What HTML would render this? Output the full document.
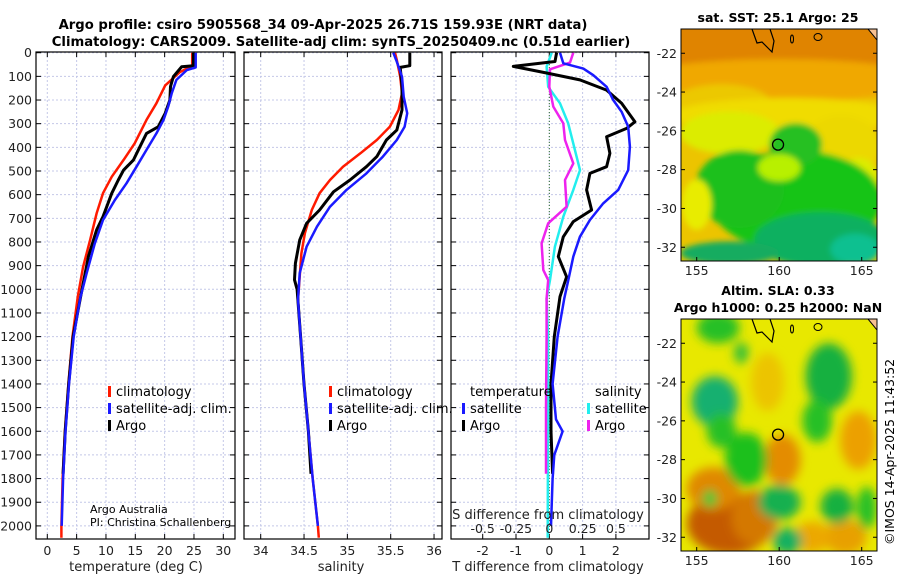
<!DOCTYPE html>
<html><head><meta charset="utf-8"><style>
body{margin:0;background:#fff;}
svg{display:block;font-family:"DejaVu Sans","Liberation Sans",sans-serif;}
</style></head><body>
<svg id="fig" width="900" height="580" viewBox="0 0 900 580" xmlns="http://www.w3.org/2000/svg">
<defs>
<filter id="bl1" x="-50%" y="-50%" width="200%" height="200%"><feGaussianBlur stdDeviation="3"/></filter>
<filter id="bl2" x="-50%" y="-50%" width="200%" height="200%"><feGaussianBlur stdDeviation="5"/></filter>
<clipPath id="cm1"><rect x="681" y="29" width="196" height="232"/></clipPath>
<clipPath id="cm2"><rect x="681" y="319" width="196" height="232"/></clipPath>
</defs>
<text x="323" y="29" text-anchor="middle" font-size="13.2" font-weight="bold">Argo profile: csiro 5905568_34 09-Apr-2025 26.71S 159.93E (NRT data)</text>
<text x="341" y="46" text-anchor="middle" font-size="13.2" font-weight="bold">Climatology: CARS2009. Satellite-adj clim: synTS_20250409.nc (0.51d earlier)</text>
<g id="panels"></g>
<g id="maps"></g>
<text transform="translate(894,545) rotate(-90)" font-size="12.5">©IMOS 14-Apr-2025 11:43:52</text>
</svg>
<script>
// ---------- data ----------
const depthTicks=[0,100,200,300,400,500,600,700,800,900,1000,1100,1200,1300,1400,1500,1600,1700,1800,1900,2000];
const tempTicks=[0,5,10,15,20,25,30];
const salTicks=[34,34.5,35,35.5,36];
const tdiffTicks=[-2,-1,0,1,2];
const sdiffTicks=[-0.5,-0.25,0,0.25,0.5];
const sdiffLabels=["-0.5","-0.25","0","0.25","0.5"];

const tClimDepth=[0,55,82,138,214,284,383,453,524,594,679,792,905,1031,1200,1400,1600,1800,2000,2050];
const tClimVal=[24.7,24.7,22.6,20.1,18.6,16.9,14.9,13.0,11.0,9.5,8.4,7.3,6.1,5.2,4.3,3.6,3.0,2.6,2.4,2.4];
const tSatDepth=[0,62,73,115,172,228,284,341,411,482,552,623,707,806,933,1038,1200,1400,1600,1800,2000];
const tSatVal=[25.3,25.3,23.8,22.0,21.2,20.6,19.8,18.6,16.9,15.2,13.5,11.5,9.5,8.1,6.7,5.6,4.5,3.7,3.1,2.7,2.45];
const tArgoDepth=[0,55,59,101,143,200,256,313,341,397,453,496,538,594,693,749,862,1003,1200,1400,1600,1780];
const tArgoVal=[24.9,24.9,22.9,21.5,21.0,20.9,20.1,18.9,16.9,15.8,14.7,13.0,12.1,11.0,9.5,8.4,7.0,5.9,4.4,3.65,3.05,2.7];

const sClimDepth=[0,31,101,172,242,313,369,425,482,538,594,665,763,848,947,1045,1200,1400,1600,1800,2000,2050];
const sClimVal=[35.55,35.57,35.61,35.63,35.59,35.49,35.34,35.15,34.95,34.80,34.68,34.59,34.51,34.47,34.45,34.43,34.46,34.50,34.55,34.60,34.66,34.67];
const sSatDepth=[0,38,101,186,256,313,369,439,510,580,651,735,820,932,1045,1200,1400,1600,1800,2000];
const sSatVal=[35.53,35.57,35.63,35.65,35.69,35.66,35.57,35.41,35.22,34.99,34.80,34.65,34.53,34.45,34.43,34.46,34.50,34.55,34.60,34.66];
const sArgoDepth=[0,55,62,144,242,327,369,439,482,538,588,665,721,792,890,960,1000,1200,1400,1600,1780];
const sArgoVal=[35.72,35.72,35.61,35.63,35.63,35.57,35.45,35.34,35.22,35.03,34.84,34.68,34.53,34.45,34.40,34.39,34.42,34.46,34.50,34.55,34.58];

const dtSatDepth=[0,45,67,95,144,200,250,313,397,496,580,637,707,778,862,961,1038,1200,1400,1550,1600,1700,1800,2000];
const dtSatVal=[0.32,0.42,1.02,1.32,1.72,1.92,2.17,2.37,2.42,2.37,2.07,1.62,1.22,0.92,0.72,0.57,0.45,0.25,0.1,0.2,0.4,0.15,0.1,0.05];
const dtArgoDepth=[0,37,58,86,115,158,214,292,320,355,425,482,510,580,665,714,778,862,947,1031,1200,1400,1600,1780];
const dtArgoVal=[0.22,0.17,-1.08,-0.08,0.92,1.72,2.17,2.57,2.32,1.72,1.82,1.72,1.22,1.12,1.27,0.72,0.42,0.27,0.52,0.32,0.15,0.05,0.05,0.1];
const dsSatDepth=[0,59,144,214,299,411,496,580,693,820,961,1038,1200,1600,2050];
const dsSatVal=[0.018,-0.02,-0.008,0.08,0.142,0.192,0.23,0.18,0.105,0.042,0.005,-0.02,-0.01,-0.01,-0.012];
const dsArgoDepth=[0,42,70,144,228,299,369,468,538,651,721,806,918,961,1038,1200,1500,1780];
const dsArgoVal=[0.18,0.155,0.005,0,0.03,0.105,0.118,0.18,0.118,0.13,-0.008,-0.058,-0.045,-0.008,-0.02,-0.02,-0.025,-0.025];

// ---------- helpers ----------
const NS="http://www.w3.org/2000/svg";
function mk(tag,attrs,parent){const e=document.createElementNS(NS,tag);for(const k in attrs)e.setAttribute(k,attrs[k]);parent.appendChild(e);return e;}
const Y0=52.7, PX100=23.66, YB=539;
const yD=d=>Y0+d*PX100/100;
const P1={l:36,r:235}, P2={l:244,r:442}, P3={l:451,r:649};
const xT=t=>47.3+t*5.867;
const xS=s=>260.7+(s-34)*86.67;
const xDT=t=>549.3+t*33.3;
const xDS=s=>549.3+s*133.3;
const panels=document.getElementById('panels');

function frame(P,name,xticks,xfun,xlabels){
  const g=mk('g',{},panels);
  
  
  mk('rect',{x:P.l,y:52,width:P.r-P.l,height:YB-52,fill:'#fff'},g);
  depthTicks.forEach(d=>{
    const l=mk('line',{x1:P.l,x2:P.r,y1:yD(d),y2:yD(d),stroke:'#c4c8e8','stroke-dasharray':'2,2','stroke-width':1},g);
    
    
    mk('line',{x1:P.l,x2:P.l+5,y1:yD(d),y2:yD(d),stroke:'#000'},g);
    mk('line',{x1:P.r,x2:P.r-5,y1:yD(d),y2:yD(d),stroke:'#000'},g);
  });
  xticks.forEach((v,i)=>{
    const x=xfun(v);
    const l=mk('line',{x1:x,x2:x,y1:52,y2:YB,stroke:'#c4c8e8','stroke-dasharray':'2,2','stroke-width':1},g);
    
    
    mk('line',{x1:x,x2:x,y1:YB,y2:YB-5,stroke:'#000'},g);
    mk('line',{x1:x,x2:x,y1:52,y2:57,stroke:'#000'},g);
    const t=mk('text',{x:x,y:555,'text-anchor':'middle','font-size':12.5,fill:'#222'},g);
    t.textContent=xlabels?xlabels[i]:String(v);
    
    
  });
  return g;
}
function line(g,depths,vals,xf,color,w,name){
  let d='';
  depths.forEach((dp,i)=>{d+=(i?'L':'M')+xf(vals[i]).toFixed(1)+','+yD(dp).toFixed(1);});
  const p=mk('path',{d:d,fill:'none',stroke:color,'stroke-width':w,'stroke-linejoin':'round'},g);
  
  
  return p;
}
function border(g,P){mk('rect',{x:P.l,y:52,width:P.r-P.l,height:YB-52,fill:'none',stroke:'#000','stroke-width':1.2},g);}
function legendItem(g,x,y,color,label,name){
  mk('rect',{x:x,y:y-10,width:3,height:11,fill:color},g);
  const t=mk('text',{x:x+8,y:y,'font-size':13},g);
  t.textContent=label;
  
  
}

depthTicks.forEach(d=>{
  const t=mk('text',{x:32,y:yD(d)+4.5,'text-anchor':'end','font-size':12.5,fill:'#222'},panels);
  t.textContent=String(d);
  
  
});

const g1=frame(P1,'temperature-panel',tempTicks,xT);
line(g1,tClimDepth,tClimVal,xT,'#ff1a00',2.5,'temp-climatology-line');
line(g1,tArgoDepth,tArgoVal,xT,'#000',3,'temp-argo-line');
line(g1,tSatDepth,tSatVal,xT,'#1a1aff',2.5,'temp-satellite-line');
border(g1,P1);
legendItem(g1,108,396,'#ff1a00','climatology','legend-climatology');
legendItem(g1,108,413,'#1a1aff','satellite-adj. clim.','legend-satellite');
legendItem(g1,108,430,'#000','Argo','legend-argo');
let tx=mk('text',{x:90,y:513,'font-size':11},g1);tx.textContent='Argo Australia';
tx=mk('text',{x:90,y:526,'font-size':11},g1);tx.textContent='PI: Christina Schallenberg';
tx=mk('text',{x:136,y:571,'text-anchor':'middle','font-size':13,fill:'#222'},g1);tx.textContent='temperature (deg C)';


const g2=frame(P2,'salinity-panel',salTicks,xS);
line(g2,sClimDepth,sClimVal,xS,'#ff1a00',2.5,'sal-climatology-line');
line(g2,sArgoDepth,sArgoVal,xS,'#000',3,'sal-argo-line');
line(g2,sSatDepth,sSatVal,xS,'#1a1aff',2.5,'sal-satellite-line');
border(g2,P2);
legendItem(g2,329,396,'#ff1a00','climatology','legend-climatology');
legendItem(g2,329,413,'#1a1aff','satellite-adj. clim.','legend-satellite');
legendItem(g2,329,430,'#000','Argo','legend-argo');
tx=mk('text',{x:341,y:571,'text-anchor':'middle','font-size':13,fill:'#222'},g2);tx.textContent='salinity';

const g3=frame(P3,'difference-panel',tdiffTicks,xDT);
mk('line',{x1:xDT(0),x2:xDT(0),y1:52,y2:YB,stroke:'#2a6a2a','stroke-dasharray':'1,2'},g3);
line(g3,dsSatDepth,dsSatVal,xDS,'#22eeee',2.5,'sdiff-satellite-line');
line(g3,dsArgoDepth,dsArgoVal,xDS,'#ee22ee',2.5,'sdiff-argo-line');
line(g3,dtArgoDepth,dtArgoVal,xDT,'#000',3,'tdiff-argo-line');
line(g3,dtSatDepth,dtSatVal,xDT,'#1a1aff',2.5,'tdiff-satellite-line');
border(g3,P3);
tx=mk('text',{x:470,y:396,'font-size':13},g3);tx.textContent='temperature';
legendItem(g3,462,413,'#1a1aff','satellite','legend-tdiff-satellite');
legendItem(g3,462,430,'#000','Argo','legend-tdiff-argo');
tx=mk('text',{x:595,y:396,'font-size':13},g3);tx.textContent='salinity';
legendItem(g3,587,413,'#22eeee','satellite','legend-sdiff-satellite');
legendItem(g3,587,430,'#ee22ee','Argo','legend-sdiff-argo');
tx=mk('text',{x:548,y:519,'text-anchor':'middle','font-size':13,fill:'#222'},g3);tx.textContent='S difference from climatology';
sdiffTicks.forEach((v,i)=>{
  const t=mk('text',{x:xDS(v),y:533,'text-anchor':'middle','font-size':12.5,fill:'#222'},g3);
  t.textContent=sdiffLabels[i];
  
  
});
tx=mk('text',{x:548,y:571,'text-anchor':'middle','font-size':13,fill:'#222'},g3);tx.textContent='T difference from climatology';

// ---------- maps ----------
const mapLonTicks=[155,160,165];
const mapLatTicks=[-22,-24,-26,-28,-30,-32];
const argoLon=159.93, argoLat=-26.71;
const mLon=lon=>680.7+(lon-154.03)*16.5;
const mLat=(lat,top)=>top+( -20.75-lat)*19.4;
const maps=document.getElementById('maps');
const sstBlobs=[[160,-21.3,9,2.2,'#e08400'],[160,-23.4,9,1.1,'#f0a800'],[156.5,-24.6,3,1.0,'#ecc800'],[160.5,-25.2,7,0.9,'#f0dc00'],[163.8,-26.8,2.3,1.6,'#ecd800'],[157,-26.1,3,1.1,'#dcec00'],[164.8,-28.6,1.3,1.2,'#dcec00'],
 [161,-29.6,5.2,2.6,'#18c418'],[157.6,-29,2.7,2,'#1ec01e'],[161,-26.7,1.6,1.1,'#28c020'],[160,-27.9,1.3,0.7,'#b8f000'],[162.5,-31.6,4,1.4,'#10b060'],[164.6,-32.1,1.5,0.8,'#10c090'],[155,-29.8,0.9,1.3,'#e8ec00'],[157,-32.3,3,0.6,'#14ac60']];
const slaBlobs=[[157,-31.3,2.6,1.6,'#c45a00'],[156,-29.5,1.6,1.1,'#e08800'],[158.5,-31,1.4,1.4,'#d47800'],[160.2,-28,1.1,1.3,'#e48c00'],[164.8,-27,1.1,1.5,'#eca000'],[164,-32,1.3,0.9,'#e8a000'],[162,-32,1.1,0.8,'#eca800'],[159.3,-24,1,1.5,'#ecc400'],
 [156.3,-21.2,1.3,0.8,'#28c028'],[156.1,-25,1.4,1.3,'#18b070'],[156.5,-26.5,0.9,0.9,'#28c028'],[158,-28,1.3,1.4,'#1ec01e'],[163,-23.7,1.4,1.7,'#18b040'],[162.3,-26,0.9,1.1,'#28c028'],[160,-30.2,1.3,0.9,'#18b050'],[163.5,-30.4,1,0.9,'#18b040'],[160.5,-32.2,0.9,0.7,'#18b060'],[157.7,-22.5,0.45,0.55,'#38c038'],[155.8,-30,0.45,0.45,'#38c838'],[165.3,-30.5,0.6,1.1,'#28c028']];
function drawMap(top,name,bg,blobs,filt,clip,titles){
  const g=mk('g',{},maps);
  
  
  titles.forEach((s,i)=>{const t=mk('text',{x:778,y:top-(titles.length-1-i)*17-7,'text-anchor':'middle','font-size':12.5,'font-weight':'bold'},g);t.textContent=s;});
  const c=mk('g',{'clip-path':'url(#'+clip+')'},g);
  mk('rect',{x:681,y:top,width:196,height:232,fill:bg},c);
  const b=mk('g',{filter:'url(#'+filt+')'},c);
  blobs.forEach(r=>{
    const e=mk('ellipse',{cx:mLon(r[0]),cy:mLat(r[1],top),rx:r[2]*16.5,ry:r[3]*19.4,fill:r[4]},b);
    
    
  });
  mk('path',{d:`M752,${top} L757,${top+14} L762,${top+13} L768,${top+19} L772,${top+23} L774,${top+12} L770,${top}`,fill:'none',stroke:'#000','stroke-width':1.2},c);
  mk('path',{d:`M868,${top} L877,${top+11} L877,${top}Z`,fill:'#f8c090',stroke:'#000'},c);
  mk('ellipse',{cx:818,cy:top+8,rx:4,ry:3.5,fill:'none',stroke:'#000'},c);
  mk('ellipse',{cx:792,cy:top+10,rx:1.5,ry:4,fill:'none',stroke:'#000'},c);
  mk('circle',{cx:mLon(argoLon),cy:mLat(argoLat,top),r:5.5,fill:'none',stroke:'#000','stroke-width':1.3},g);
  mk('rect',{x:681,y:top,width:196,height:232,fill:'none',stroke:'#000'},g);
  mapLatTicks.forEach(v=>{
    const y=mLat(v,top);
    mk('line',{x1:681,x2:685,y1:y,y2:y,stroke:'#000'},g);
    mk('line',{x1:877,x2:873,y1:y,y2:y,stroke:'#000'},g);
    const t=mk('text',{x:677,y:y+4.5,'text-anchor':'end','font-size':12.5,fill:'#222'},g);t.textContent=String(v);
    
    
  });
  mapLonTicks.forEach(v=>{
    const x=mLon(v);
    mk('line',{x1:x,x2:x,y1:top+232,y2:top+228,stroke:'#000'},g);
    const t=mk('text',{x:x,y:top+246,'text-anchor':'middle','font-size':12.5,fill:'#222'},g);t.textContent=String(v);
    
    
  });
}
drawMap(29,'sst-map','#ecc400',sstBlobs,'bl1','cm1',['sat. SST: 25.1 Argo: 25']);
drawMap(319,'sla-map','#e8e800',slaBlobs,'bl2','cm2',['Altim. SLA: 0.33','Argo h1000: 0.25 h2000: NaN']);
</script>
</body></html>
